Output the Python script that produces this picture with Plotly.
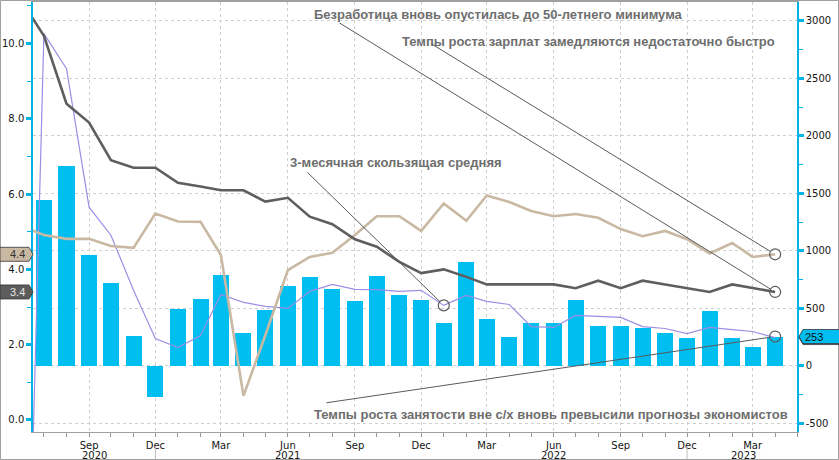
import pandas as pd
import plotly.graph_objects as go

# ---------------- data ----------------
months = pd.date_range("2020-06-01", "2023-04-01", freq="MS")

# Nonfarm payrolls, monthly change, thousands (bars, right axis)
payrolls = [None,
            1440, 1737, 960, 716, 262, -271,
            489, 576, 786, 288, 480, 690, 768, 663, 559, 777, 611, 567,
            367, 899, 410, 253, 367, 367, 567, 349, 349, 323, 288, 236,
            471, 244, 166, 253]

# 3-month moving average of payrolls (right axis)
payrolls_ma3 = [-4270,
                2890, 2584, 1379, 1135, 655, 236,
                157, 262, 620, 550, 515, 498, 646, 707, 663, 661, 646, 655,
                524, 611, 559, 532, 340, 332, 437, 428, 419, 340, 323, 279,
                332, 314, 297, 244]

# Average hourly earnings, % y/y (left axis)
wages = [5.15,
         4.91, 4.81, 4.81, 4.62, 4.57, 5.48,
         5.27, 5.26, 4.38, 0.64, 2.25, 3.98, 4.33, 4.44, 4.91, 5.41, 5.41, 5.02,
         5.75, 5.29, 5.96, 5.79, 5.55, 5.41, 5.47, 5.37, 5.07, 4.88, 5.02, 4.80,
         4.42, 4.70, 4.33, 4.4]

# Unemployment rate, % (left axis)
unemployment = [11.1,
                10.2, 8.4, 7.9, 6.9, 6.7, 6.7,
                6.3, 6.2, 6.1, 6.1, 5.8, 5.9, 5.4, 5.2, 4.8, 4.6, 4.2, 3.9,
                4.0, 3.8, 3.6, 3.6, 3.6, 3.6, 3.5, 3.7, 3.5, 3.7, 3.6, 3.5,
                3.4, 3.6, 3.5, 3.4]

tick_dates = pd.date_range("2020-09-01", "2023-03-01", freq="3MS")
tick_text = [d.strftime("%b") for d in tick_dates]
year_labels = ["2020", "2021", "2022", "2023"]
year_label_dates = ["2020-09-08", "2021-06-01", "2022-06-01", "2023-02-16"]
year_sep_dates = ["2020-12-01", "2022-12-01"]

left_ticks = [0, 2, 4, 6, 8, 10]
left_ticktext = [f"{v:.1f}" for v in left_ticks]
right_ticks = [-500, 0, 500, 1000, 1500, 2000, 2500, 3000]
right_ticktext = [str(v) for v in right_ticks]

callout_texts = [
    "Безработица вновь опустилась до 50-летнего минимума",
    "Темпы роста зарплат замедляются недостаточно быстро",
    "3-месячная скользящая средняя",
    "Темпы роста занятости вне с/х вновь превысили прогнозы экономистов",
]

# ---------------- layout constants ----------------
W, H = 839, 460
ML, MR, MT, MB = 33, 42, 2, 28
PW, PH = W - ML - MR, H - MT - MB
X_RANGE = [pd.Timestamp("2020-06-16"), pd.Timestamp("2023-05-01")]
PCT_RANGE = [-0.319, 11.10]
NFP_RANGE = [-578, 3165]

C_BAR = "#00bef0"
C_AXIS = "#00b4e6"
C_TAN = "#c9b9a3"
C_GRAY = "#5e5e5e"
C_PURPLE = "#9a8fe4"
C_TXT = "#6e6e6e"
C_CALL = "#5a5a5a"
C_TICK = "#151515"
FONT_AX = "DejaVu Sans"
FONT_TXT = "Liberation Sans"


def x_px(d):
    d = pd.Timestamp(d)
    return ML + (d - X_RANGE[0]) / (X_RANGE[1] - X_RANGE[0]) * PW


def pct_px(v):
    return MT + (PCT_RANGE[1] - v) / (PCT_RANGE[1] - PCT_RANGE[0]) * PH


def nfp_px(v):
    return MT + (NFP_RANGE[1] - v) / (NFP_RANGE[1] - NFP_RANGE[0]) * PH


def px_to_paper(px, py):
    return (px - ML) / PW, (H - MB - py) / PH


fig = go.Figure()

# bars + 3m MA on primary (payroll) axis -> drawn below lines of overlay axis
fig.add_trace(go.Bar(x=months, y=payrolls, marker=dict(color=C_BAR, line=dict(width=0)),
                     width=22 * 86400000, yaxis="y", hoverinfo="skip"))
fig.add_trace(go.Scatter(x=months, y=payrolls_ma3, mode="lines",
                         line=dict(color=C_PURPLE, width=1.2), yaxis="y"))
fig.add_trace(go.Scatter(x=[months[-1], months[19]], y=[payrolls[-1], payrolls_ma3[19]],
                         mode="markers", yaxis="y",
                         marker=dict(symbol="circle-open", size=11, color="#5a5a5a",
                                     line=dict(width=1.2, color="#5a5a5a"))))

fig.add_trace(go.Scatter(x=months, y=wages, mode="lines",
                         line=dict(color=C_TAN, width=2.6), yaxis="y2"))
fig.add_trace(go.Scatter(x=months, y=unemployment, mode="lines",
                         line=dict(color=C_GRAY, width=2.6), yaxis="y2"))
fig.add_trace(go.Scatter(x=[months[-1], months[-1]], y=[wages[-1], unemployment[-1]],
                         mode="markers", yaxis="y2",
                         marker=dict(symbol="circle-open", size=11, color="#5a5a5a",
                                     line=dict(width=1.2, color="#5a5a5a"))))

annotations = []
shapes = []

# callout texts
text_pos = [(312, 14), (400, 41), (288, 162), (312, 414)]
for t, (px, py) in zip(callout_texts, text_pos):
    xp, yp = px_to_paper(px, py)
    annotations.append(dict(text=f"<b>{t}</b>", x=xp, y=yp, xref="paper", yref="paper",
                            xanchor="left", yanchor="middle", showarrow=False,
                            font=dict(family=FONT_TXT, size=13, color=C_TXT)))

# callout lines: (tail pixel, head date, head value, axis, pixel function)
callouts = [
    ((338, 22), months[-1], unemployment[-1], "y2", pct_px),
    ((430, 43), months[-1], wages[-1], "y2", pct_px),
    ((306, 171), months[19], payrolls_ma3[19], "y", nfp_px),
    ((325, 403), months[-1], payrolls[-1], "y", nfp_px),
]
for (tx, ty), hx, hy, yr, fpx in callouts:
    annotations.append(dict(text="", x=hx, y=hy, xref="x", yref=yr, showarrow=True,
                            arrowhead=0, arrowwidth=1, arrowcolor=C_CALL, standoff=5.5,
                            ax=tx - x_px(hx), ay=ty - fpx(hy)))

# year labels and separators
for lab, d in zip(year_labels, year_label_dates):
    annotations.append(dict(text=lab, x=d, xref="x", y=-23 / PH, yref="paper",
                            xanchor="center", yanchor="middle", showarrow=False,
                            font=dict(family=FONT_AX, size=10, color=C_TICK)))
for d in year_sep_dates:
    shapes.append(dict(type="line", xref="x", yref="paper", x0=d, x1=d,
                       y0=-14 / PH, y1=-27 / PH, line=dict(color="#bbbbbb", width=1)))

# value tags
left_path = "M-33,-7 L-4,-7 L0,0 L-4,7 L-33,7 Z"
right_path = "M2,0 L6,7 L46,7 L46,-7 L6,-7 Z"
for val, fill, tcol in [(wages[-1], C_TAN, "#333333"), (unemployment[-1], "#5c5c5c", "#e6e6e6")]:
    shapes.append(dict(type="path", xref="paper", yref="y2", xsizemode="pixel", ysizemode="pixel",
                       xanchor=0, yanchor=val, path=left_path, fillcolor=fill,
                       line=dict(color="#333333", width=0.8), layer="above"))
    annotations.append(dict(text=f"{val:.1f}", x=0, xref="paper", y=val, yref="y2",
                            xanchor="center", yanchor="middle", xshift=-16, showarrow=False,
                            font=dict(family=FONT_TXT, size=11, color=tcol)))
shapes.append(dict(type="path", xref="paper", yref="y", xsizemode="pixel", ysizemode="pixel",
                   xanchor=1, yanchor=payrolls_ma3[-1], path=right_path, fillcolor="#8f84dc",
                   line=dict(color="#333333", width=0.8), layer="above"))
shapes.append(dict(type="path", xref="paper", yref="y", xsizemode="pixel", ysizemode="pixel",
                   xanchor=1, yanchor=payrolls[-1], path=right_path, fillcolor=C_BAR,
                   line=dict(color="#333333", width=0.8), layer="above"))
annotations.append(dict(text=f"{payrolls[-1]}", x=1, xref="paper", y=payrolls[-1], yref="y",
                        xanchor="left", yanchor="middle", xshift=6, showarrow=False,
                        font=dict(family=FONT_TXT, size=11, color="#111111")))

# outer border
bx0, by0 = px_to_paper(0.5, 459.5)
bx1, by1 = px_to_paper(838.5, 0.5)
shapes.append(dict(type="rect", xref="paper", yref="paper", x0=bx0, x1=bx1, y0=by0, y1=by1,
                   line=dict(color="#a0a0a0", width=1), layer="below"))

fig.update_layout(
    width=W, height=H,
    margin=dict(l=ML, r=MR, t=MT, b=MB),
    paper_bgcolor="white", plot_bgcolor="white",
    showlegend=False,
    bargap=0,
    xaxis=dict(type="date", range=X_RANGE, tickvals=tick_dates, ticktext=tick_text,
               showgrid=True, gridcolor="#cfcfcf", griddash="dot", gridwidth=1,
               ticks="outside", ticklen=4, tickcolor="#999999", tickwidth=1,
               minor=dict(dtick="M1", tick0="2020-06-01", ticks="outside", ticklen=4,
                          tickcolor="#999999", showgrid=False),
               showline=True, linecolor="#a0a0a0", linewidth=1, mirror=True,
               tickfont=dict(family=FONT_AX, size=10, color=C_TICK), zeroline=False),
    yaxis=dict(range=NFP_RANGE, side="right", tickvals=right_ticks, ticktext=right_ticktext,
               showgrid=True, gridcolor="#cfcfcf", griddash="dot", gridwidth=1, zeroline=False,
               ticks="outside", ticklen=5, tickwidth=3, tickcolor=C_AXIS,
               minor=dict(dtick=250, tick0=0, ticks="outside", ticklen=4, tickwidth=1,
                          tickcolor=C_AXIS, showgrid=False),
               showline=True, linecolor=C_AXIS, linewidth=1.5,
               tickfont=dict(family=FONT_AX, size=10, color=C_TICK)),
    yaxis2=dict(range=PCT_RANGE, side="left", overlaying="y", tickvals=left_ticks,
                ticktext=left_ticktext, showgrid=False, zeroline=False,
                ticks="outside", ticklen=5, tickwidth=3, tickcolor=C_AXIS,
                minor=dict(dtick=1, tick0=0, ticks="outside", ticklen=4, tickwidth=1,
                           tickcolor=C_AXIS, showgrid=False),
                showline=True, linecolor=C_AXIS, linewidth=1.5,
                tickfont=dict(family=FONT_AX, size=10, color=C_TICK)),
    annotations=annotations,
    shapes=shapes,
)

fig.write_html("out.html", config={"displayModeBar": False},
               post_script="document.body.style.margin='0px';document.body.style.overflow='hidden';")
